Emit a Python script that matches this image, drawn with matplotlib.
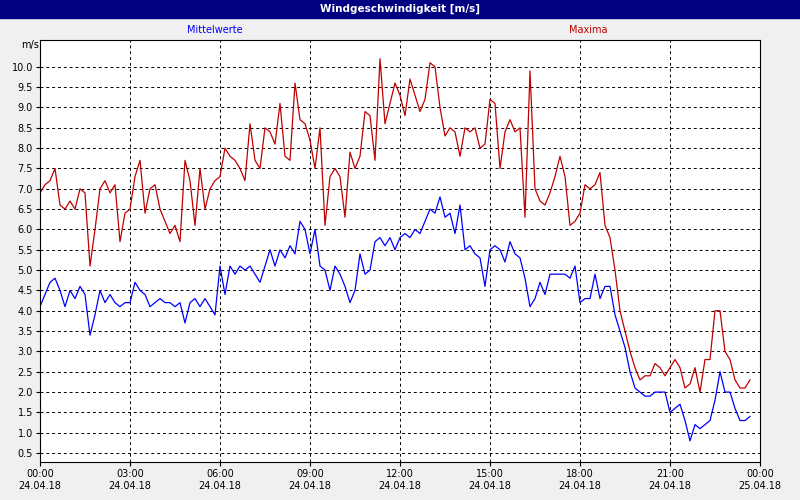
import matplotlib
matplotlib.use("Agg")
import matplotlib.pyplot as plt
import numpy as np
from matplotlib.patches import Rectangle

maxima = [6.9,7.1,7.2,7.5,6.6,6.5,6.7,6.5,7.0,6.9,5.1,6.0,7.0,7.2,6.9,7.1,5.7,6.4,6.5,7.3,
          7.7,6.4,7.0,7.1,6.5,6.2,5.9,6.1,5.7,7.7,7.2,6.1,7.5,6.5,7.0,7.2,7.3,8.0,7.8,7.7,
          7.5,7.2,8.6,7.7,7.5,8.5,8.4,8.1,9.1,7.8,7.7,9.6,8.7,8.6,8.2,7.5,8.5,6.1,7.3,7.5,
          7.3,6.3,7.9,7.5,7.8,8.9,8.8,7.7,10.2,8.6,9.1,9.6,9.3,8.8,9.7,9.3,8.9,9.2,10.1,10.0,
          9.0,8.3,8.5,8.4,7.8,8.5,8.4,8.5,8.0,8.1,9.2,9.1,7.5,8.4,8.7,8.4,8.5,6.3,9.9,7.0,
          6.7,6.6,6.9,7.3,7.8,7.3,6.1,6.2,6.4,7.1,7.0,7.1,7.4,6.1,5.8,5.0,4.0,3.5,3.0,2.6,
          2.3,2.4,2.4,2.7,2.6,2.4,2.6,2.8,2.6,2.1,2.2,2.6,2.0,2.8,2.8,4.0,4.0,3.0,2.8,2.3,
          2.1,2.1,2.3]
mittel = [4.1,4.4,4.7,4.8,4.5,4.1,4.5,4.3,4.6,4.4,3.4,3.9,4.5,4.2,4.4,4.2,4.1,4.2,4.2,4.7,
          4.5,4.4,4.1,4.2,4.3,4.2,4.2,4.1,4.2,3.7,4.2,4.3,4.1,4.3,4.1,3.9,5.1,4.4,5.1,4.9,
          5.1,5.0,5.1,4.9,4.7,5.1,5.5,5.1,5.5,5.3,5.6,5.4,6.2,6.0,5.4,6.0,5.1,5.0,4.5,5.1,
          4.9,4.6,4.2,4.5,5.4,4.9,5.0,5.7,5.8,5.6,5.8,5.5,5.8,5.9,5.8,6.0,5.9,6.2,6.5,6.4,
          6.8,6.3,6.4,5.9,6.6,5.5,5.6,5.4,5.3,4.6,5.5,5.6,5.5,5.2,5.7,5.4,5.3,4.8,4.1,4.3,
          4.7,4.4,4.9,4.9,4.9,4.9,4.8,5.1,4.2,4.3,4.3,4.9,4.3,4.6,4.6,3.9,3.5,3.1,2.5,2.1,
          2.0,1.9,1.9,2.0,2.0,2.0,1.5,1.6,1.7,1.3,0.8,1.2,1.1,1.2,1.3,1.8,2.5,2.0,2.0,1.6,
          1.3,1.3,1.4]
tick_labels = ["00:00\n24.04.18","03:00\n24.04.18","06:00\n24.04.18","09:00\n24.04.18",
               "12:00\n24.04.18","15:00\n24.04.18","18:00\n24.04.18","21:00\n24.04.18",
               "00:00\n25.04.18"]
yticks = np.arange(0.5, 10.01, 0.5)

t_max = np.arange(len(maxima)) / 6.0
t_mit = np.arange(len(mittel)) / 6.0

fig = plt.figure(figsize=(8, 5), dpi=100, facecolor="#f0f0f0")
ax = fig.add_axes([40/800, 38/500, 720/800, 422/500])
ax.set_facecolor("white")
ax.plot(t_max, maxima, color="#c00000", lw=0.9)
ax.plot(t_mit, mittel, color="#0000ff", lw=0.9)
ax.set_xlim(0, 24)
ax.set_ylim(0.28, 10.66)
ax.set_xticks(np.arange(0, 24.1, 3))
ax.set_xticklabels(tick_labels, fontsize=7)
ax.set_yticks(yticks)
ax.set_yticklabels([f"{v:.1f}" for v in yticks], fontsize=7)
ax.grid(True, color="black", ls=(0, (3, 3)), lw=0.7)
ax.tick_params(length=3, pad=2)
for s in ax.spines.values():
    s.set_linewidth(0.8)

fig.patches.append(Rectangle((0, 482/500), 1, 18/500, transform=fig.transFigure,
                             color="#000080", zorder=0))
fig.text(0.5, 491/500, "Windgeschwindigkeit [m/s]", color="white", fontsize=7.5,
         fontweight="bold", ha="center", va="center")
fig.text(215/800, 1-30/500, "Mittelwerte", color="#0000ff", fontsize=7, ha="center", va="center")
fig.text(588/800, 1-30/500, "Maxima", color="#c00000", fontsize=7, ha="center", va="center")
fig.text(30/800, 1-45/500, "m/s", fontsize=7, ha="center", va="center")
fig.savefig("out.png", dpi=100, facecolor=fig.get_facecolor())
